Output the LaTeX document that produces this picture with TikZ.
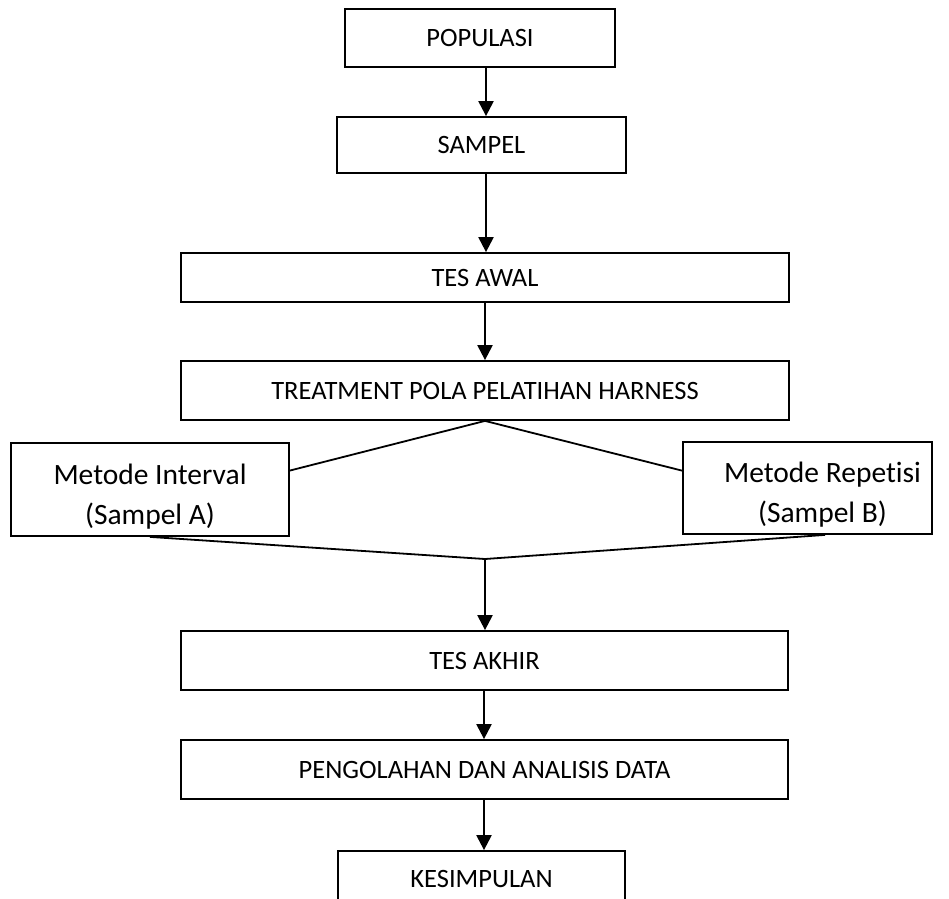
\documentclass[tikz,border=0pt]{standalone}
\usepackage{fontspec}
\setmainfont{Carlito}[Ligatures=NoCommon]
\usetikzlibrary{arrows.meta,calc}
\begin{document}
\begin{tikzpicture}[x=1pt,y=-1pt,
  box/.style={draw=black,line width=1.8pt,rectangle,inner sep=0pt,align=center,
    font=\fontsize{26.5}{30}\selectfont},
  mbox/.style={box,font=\fontsize{29.5}{40}\selectfont},
  link/.style={draw=black,line width=1.8pt},
  arr/.style={link,line width=2.2pt,-{Triangle[length=15pt,width=15pt]}}]
\useasboundingbox (0,0) rectangle (949,898);
\clip (0,0) rectangle (949,898);
\fill[white] (0,0) rectangle (949,898);
\node[box,minimum width=270,minimum height=58] (pop) at (480,38) {POPULASI};
\node[box,minimum width=289,minimum height=56] (sam) at (481.5,145) {SAMPEL};
\node[box,minimum width=608,minimum height=49] (awal) at (485,277.5) {TES AWAL};
\node[box,minimum width=608,minimum height=59] (treat) at (485,390.5) {TREATMENT POLA PELATIHAN HARNESS};
\node[mbox,minimum width=278,minimum height=93] (mi) at (150,489.5) {\rule{0pt}{34pt}Metode Interval\\(Sampel A)};
\node[mbox,minimum width=249,minimum height=92] (mr) at (807.5,488) {\rule{0pt}{34pt}\hspace*{30pt}Metode Repetisi\\\hspace*{30pt}(Sampel B)};
\node[box,minimum width=607,minimum height=59] (akhir) at (484.5,660.5) {TES AKHIR};
\node[box,minimum width=607,minimum height=59] (olah) at (484.5,769.5) {PENGOLAHAN DAN ANALISIS DATA};
\node[box,minimum width=287,minimum height=56] (kes) at (481.5,879) {KESIMPULAN};
\coordinate (ax1) at (486,0);
\coordinate (ax2) at (484,0);
\coordinate (join) at (485,559);
\draw[arr] (pop.south -| ax1) -- (sam.north -| ax1);
\draw[arr] (sam.south -| ax1) -- (awal.north -| ax1);
\draw[arr] (awal.south) -- (treat.north);
\draw[link] ($(mi.north east)!0.3!(mi.south east)$) -- (treat.south) -- ($(mr.north west)!0.315!(mr.south west)$);
\draw[link] (mi.south) -- (join) -- ($(mr.south west)!0.57!(mr.south east)$);
\draw[arr] (join) -- (akhir.north -| join);
\draw[arr] (akhir.south -| ax2) -- (olah.north -| ax2);
\draw[arr] (olah.south -| ax2) -- (kes.north -| ax2);
\end{tikzpicture}
\end{document}
